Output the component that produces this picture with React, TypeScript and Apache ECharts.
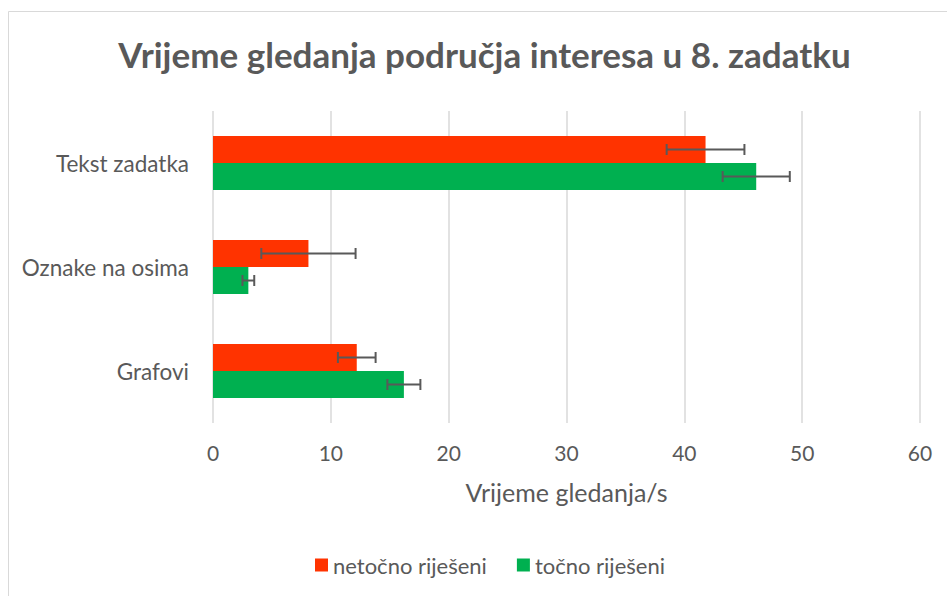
import React, { useEffect, useRef } from "react";
import * as echarts from "echarts";

const categories = ["Grafovi", "Oznake na osima", "Tekst zadatka"];
const netocnoValues = [12.2, 8.1, 41.8];
const netocnoErrors = [1.6, 4.0, 3.3];
const tocnoValues = [16.2, 3.0, 46.1];
const tocnoErrors = [1.4, 0.5, 2.85];
const xTicks = [0, 10, 20, 30, 40, 50, 60];

const seriesNames = ["netočno riješeni", "točno riješeni"];
const colors = ["#FF3300", "#00B050"];
const FONT = "Lato, 'Open Sans', sans-serif";
const GAP = 0.48;

function errorSeries(values: number[], errors: number[], sign: number) {
  const data = values.map((v, i) => [i, v - errors[i], v + errors[i]]);
  return {
    type: "custom",
    silent: true,
    z: 5,
    dimensions: ["cat", "lo", "hi"],
    encode: { y: 0, x: [1, 2] },
    data,
    renderItem: (params: any, api: any) => {
      const cat = api.value(0);
      const lo = api.value(1);
      const hi = api.value(2);
      const band = api.size([0, 1])[1];
      const bw = (band * (1 - GAP)) / 2;
      const p1 = api.coord([lo, cat]);
      const p2 = api.coord([hi, cat]);
      const y = p1[1] + (sign * bw) / 2;
      const cap = 5.5;
      const style = { stroke: "#595959", lineWidth: 2 };
      return {
        type: "group",
        children: [
          { type: "line", shape: { x1: p1[0], y1: y, x2: p2[0], y2: y }, style },
          { type: "line", shape: { x1: p1[0], y1: y - cap, x2: p1[0], y2: y + cap }, style },
          { type: "line", shape: { x1: p2[0], y1: y - cap, x2: p2[0], y2: y + cap }, style },
        ],
      };
    },
  };
}

export default function App() {
  const ref = useRef<HTMLDivElement>(null);
  useEffect(() => {
    document.body.style.margin = "0";
    const chart = echarts.init(ref.current!, null, { renderer: "svg" });
    chart.setOption({
      animation: false,
      backgroundColor: "#ffffff",
      textStyle: { fontFamily: FONT },
      graphic: [
        {
          type: "rect",
          shape: { x: 8.5, y: 11.5, width: 1000, height: 700 },
          style: { fill: "none", stroke: "#D9D9D9", lineWidth: 1 },
          silent: true,
        },
        {
          type: "text",
          x: 484.5,
          y: 54,
          style: {
            text: "Vrijeme gledanja područja interesa u 8. zadatku",
            font: `bold 35px ${FONT}`,
            fill: "#595959",
            textAlign: "center",
            textVerticalAlign: "middle",
          },
        },
      ],
      legend: {
        left: 310,
        top: 549,
        itemWidth: 13,
        itemHeight: 13,
        itemGap: 30,
        icon: "rect",
        textStyle: { color: "#595959", fontSize: 22, fontFamily: FONT },
        data: seriesNames,
      },
      grid: { left: 213, top: 111, width: 707, height: 312, containLabel: false },
      xAxis: {
        type: "value",
        min: xTicks[0],
        max: xTicks[xTicks.length - 1],
        interval: 10,
        name: "Vrijeme gledanja/s",
        nameLocation: "middle",
        nameGap: 56,
        nameTextStyle: { color: "#595959", fontSize: 25, fontFamily: FONT },
        axisLine: { show: false },
        axisTick: { show: false },
        axisLabel: { color: "#595959", fontSize: 21, fontFamily: FONT, margin: 19 },
        splitLine: { show: true, lineStyle: { color: "#D9D9D9", width: 1.5 } },
      },
      yAxis: {
        type: "category",
        data: categories,
        axisLine: { show: false },
        axisTick: { show: false },
        axisLabel: { color: "#595959", fontSize: 22.5, fontFamily: FONT, margin: 24 },
        splitLine: { show: false },
      },
      series: [
        {
          name: seriesNames[0],
          type: "bar",
          data: netocnoValues,
          itemStyle: { color: colors[0] },
          barGap: "0%",
          barCategoryGap: `${GAP * 100}%`,
        },
        {
          name: seriesNames[1],
          type: "bar",
          data: tocnoValues,
          itemStyle: { color: colors[1] },
          barGap: "0%",
          barCategoryGap: `${GAP * 100}%`,
        },
        errorSeries(netocnoValues, netocnoErrors, -1),
        errorSeries(tocnoValues, tocnoErrors, 1),
      ],
    });
    return () => chart.dispose();
  }, []);
  return <div ref={ref} style={{ width: 947, height: 596 }} />;
}
